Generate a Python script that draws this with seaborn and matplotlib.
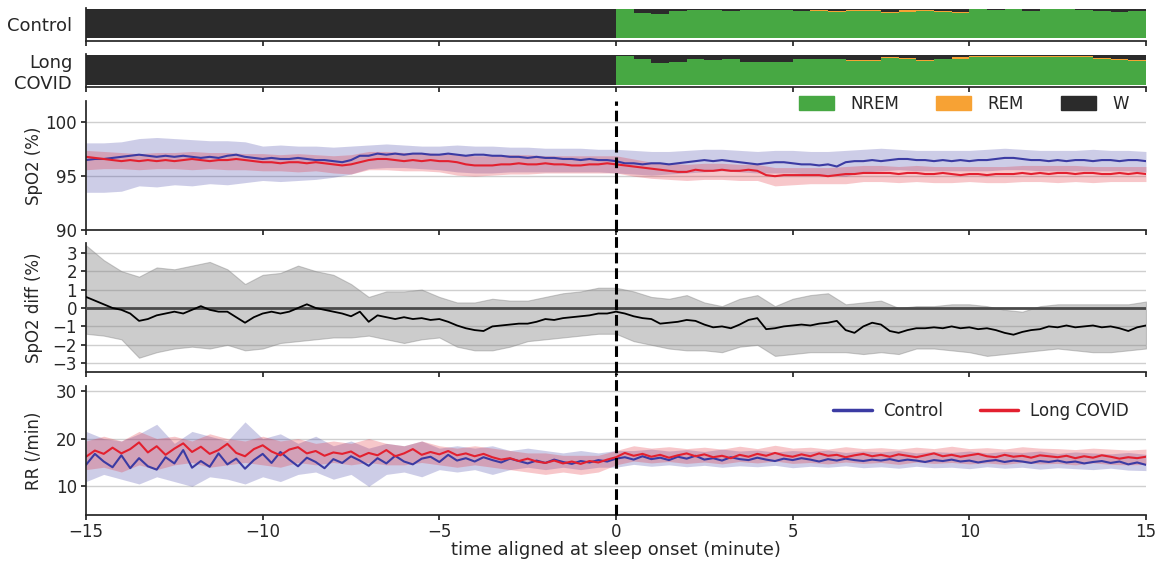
import numpy as np
import seaborn as sns
import matplotlib.pyplot as plt
from matplotlib.patches import Patch

sns.set_theme(style='ticks')
plt.rcParams['font.family'] = ['DejaVu Sans']
plt.rcParams.update({'font.size': 12, 'axes.labelsize': 12, 'xtick.labelsize': 12,
                     'ytick.labelsize': 12, 'legend.fontsize': 12,
                     'xtick.major.size': 3.5, 'ytick.major.size': 3.5,
                     'xtick.major.pad': 2.5, 'ytick.major.pad': 3, 'axes.labelpad': 2})

# time grids (minutes from sleep onset)
t_line = np.linspace(-15, 15, 121)   # mean traces, 15 s
t_band = np.linspace(-15, 15, 61)    # spread, 30 s
t_epoch = np.arange(-15, 15, 0.5)    # 30 s scoring epochs

# ---- hypnogram fractions per epoch (W and REM, rest is NREM)
hyp_ctrl_w = [1.0] * 30 + [0.02, 0.14, 0.18, 0.07, 0.03, 0.03, 0.08, 0.03, 0.03, 0.03,
                           0.07, 0.04, 0.07, 0.04, 0.04, 0.10, 0.05, 0.03, 0.07, 0.10,
                           0.02, 0.03, 0.02, 0.06, 0.02, 0.02, 0.05, 0.08, 0.11, 0.06]
hyp_ctrl_rem = [0.0] * 30 + [0, 0, 0, 0, 0, 0, 0, 0, 0, 0,
                             0, 0.02, 0.03, 0.04, 0.04, 0.03, 0.04, 0.05, 0.03, 0.03,
                             0, 0, 0, 0, 0, 0, 0, 0, 0, 0]
hyp_lc_w = [1.0] * 30 + [0.02, 0.15, 0.27, 0.24, 0.13, 0.18, 0.12, 0.22, 0.22, 0.22,
                         0.13, 0.15, 0.15, 0.18, 0.18, 0.06, 0.10, 0.16, 0.12, 0.08,
                         0.04, 0.03, 0.03, 0.03, 0.03, 0.03, 0.03, 0.10, 0.12, 0.16]
hyp_lc_rem = [0.0] * 30 + [0, 0, 0, 0, 0, 0, 0, 0, 0, 0,
                           0, 0, 0, 0.03, 0.03, 0.04, 0.03, 0.03, 0.03, 0.04,
                           0.04, 0.04, 0.04, 0.04, 0.04, 0.04, 0.04, 0.04, 0.04, 0.05]

# ---- SpO2 (%)
spo2_ctrl = [96.5, 96.6, 96.6, 96.7, 96.8, 96.9, 97.0, 96.9, 96.8, 96.9,
             96.8, 96.9, 96.8, 96.7, 96.8, 96.7, 96.9, 97.0, 96.8, 96.7,
             96.6, 96.7, 96.6, 96.6, 96.7, 96.6, 96.5, 96.5, 96.4, 96.3,
             96.5, 96.9, 96.9, 97.1, 97.0, 97.1, 97.0, 97.1, 97.1, 97.0,
             97.0, 97.1, 97.0, 96.9, 97.0, 97.0, 96.9, 96.9, 96.8, 96.8,
             96.7, 96.8, 96.7, 96.7, 96.6, 96.6, 96.5, 96.6, 96.5, 96.5,
             96.4,
             96.2, 96.2, 96.1, 96.2, 96.2, 96.1, 96.2, 96.3, 96.4, 96.5,
             96.4, 96.5, 96.4, 96.3, 96.2, 96.1, 96.2, 96.3, 96.3, 96.2,
             96.1, 96.1, 96.0, 96.1, 95.9, 96.3, 96.4, 96.4, 96.5, 96.4,
             96.5, 96.6, 96.6, 96.5, 96.5, 96.4, 96.5, 96.4, 96.5, 96.4,
             96.5, 96.5, 96.6, 96.7, 96.7, 96.6, 96.5, 96.5, 96.4, 96.5,
             96.4, 96.5, 96.5, 96.4, 96.5, 96.5, 96.4, 96.5, 96.5, 96.4]
spo2_lc = [96.8, 96.7, 96.6, 96.5, 96.4, 96.5, 96.4, 96.5, 96.4, 96.5,
           96.4, 96.5, 96.6, 96.5, 96.4, 96.5, 96.5, 96.6, 96.5, 96.4,
           96.3, 96.3, 96.2, 96.3, 96.3, 96.2, 96.3, 96.2, 96.1, 96.0,
           96.1, 96.3, 96.5, 96.6, 96.6, 96.5, 96.4, 96.5, 96.4, 96.5,
           96.4, 96.4, 96.3, 96.1, 96.0, 96.0, 96.0, 96.1, 96.1, 96.2,
           96.1, 96.1, 96.2, 96.1, 96.1, 96.0, 96.0, 96.1, 96.1, 96.2,
           96.1,
           96.0, 95.9, 95.8, 95.7, 95.6, 95.5, 95.4, 95.4, 95.6, 95.5,
           95.5, 95.6, 95.5, 95.5, 95.6, 95.5, 95.1, 95.0, 95.1, 95.1,
           95.1, 95.1, 95.1, 95.0, 95.1, 95.2, 95.2, 95.3, 95.3, 95.3,
           95.3, 95.2, 95.3, 95.3, 95.2, 95.2, 95.3, 95.2, 95.1, 95.2,
           95.2, 95.1, 95.2, 95.2, 95.2, 95.3, 95.2, 95.3, 95.2, 95.3,
           95.3, 95.2, 95.3, 95.3, 95.2, 95.2, 95.3, 95.2, 95.3, 95.2]
spo2_ctrl_hi = [98.1, 98.1, 98.2, 98.5, 98.6, 98.5, 98.4, 98.3, 98.3, 98.2,
                97.8, 97.9, 97.8, 97.8, 97.7, 97.8, 97.9, 98.0, 97.9, 97.8,
                97.8, 97.9, 97.8, 97.8, 97.7, 97.7, 97.6, 97.6, 97.6, 97.5,
                97.5,
                97.4, 97.3, 97.3, 97.4, 97.5, 97.5, 97.4, 97.3, 97.4, 97.4,
                97.3, 97.3, 97.4, 97.5, 97.6, 97.5, 97.4, 97.4, 97.4, 97.4,
                97.5, 97.6, 97.5, 97.4, 97.4, 97.4, 97.5, 97.4, 97.4, 97.3]
spo2_ctrl_lo = [93.5, 93.5, 93.6, 94.1, 94.0, 94.2, 94.1, 94.3, 94.2, 94.4,
                94.6, 94.5, 94.6, 94.7, 94.9, 95.2, 95.7, 95.8, 95.8, 95.7,
                95.6, 95.4, 95.3, 95.3, 95.4, 95.4, 95.4, 95.4, 95.4, 95.4,
                95.3,
                95.2, 95.1, 95.2, 95.3, 95.4, 95.5, 95.4, 95.3, 95.3, 95.3,
                95.2, 95.1, 95.0, 95.4, 95.5, 95.6, 95.5, 95.5, 95.5, 95.5,
                95.5, 95.6, 95.6, 95.5, 95.5, 95.5, 95.5, 95.5, 95.5, 95.4]
spo2_lc_hi = [97.4, 97.3, 97.2, 97.1, 97.2, 97.2, 97.3, 97.2, 97.2, 97.1,
              97.1, 97.0, 97.1, 97.0, 96.9, 97.0, 97.3, 97.3, 97.2, 97.2,
              97.1, 97.0, 96.9, 96.9, 97.0, 97.0, 96.9, 96.9, 96.9, 96.9,
              96.9,
              96.6, 96.3, 96.2, 96.1, 96.2, 96.2, 96.1, 96.1, 95.8, 95.8,
              95.8, 95.8, 95.9, 96.0, 96.0, 95.9, 96.0, 95.9, 95.9, 95.9,
              95.9, 95.9, 96.0, 96.0, 96.0, 96.0, 95.9, 95.9, 95.9, 95.9]
spo2_lc_lo = [95.6, 95.7, 95.7, 95.6, 95.7, 95.7, 95.6, 95.7, 95.6, 95.6,
              95.5, 95.5, 95.4, 95.5, 95.3, 95.2, 95.6, 95.6, 95.5, 95.5,
              95.4, 95.1, 95.0, 95.1, 95.2, 95.2, 95.3, 95.3, 95.3, 95.3,
              95.3,
              95.0, 94.8, 94.7, 94.6, 94.7, 94.7, 94.6, 94.6, 94.1, 94.2,
              94.3, 94.3, 94.3, 94.5, 94.5, 94.4, 94.5, 94.4, 94.4, 94.5,
              94.4, 94.4, 94.5, 94.5, 94.4, 94.5, 94.4, 94.5, 94.5, 94.5]

# ---- SpO2 difference (%)
diff_mean = [0.6, 0.4, 0.2, 0.0, -0.1, -0.3, -0.7, -0.6, -0.4, -0.3,
             -0.2, -0.3, -0.1, 0.1, -0.1, -0.2, -0.2, -0.5, -0.8, -0.5,
             -0.3, -0.2, -0.3, -0.2, 0.0, 0.2, 0.0, -0.1, -0.2, -0.3,
             -0.45, -0.2, -0.75, -0.4, -0.5, -0.6, -0.5, -0.6, -0.55, -0.65,
             -0.6, -0.75, -0.95, -1.1, -1.2, -1.25, -1.0, -0.95, -0.9, -0.85,
             -0.85, -0.75, -0.6, -0.65, -0.55, -0.5, -0.45, -0.4, -0.3, -0.3,
             -0.2,
             -0.3, -0.45, -0.55, -0.6, -0.85, -0.8, -0.75, -0.65, -0.7, -0.9,
             -1.05, -1.0, -1.1, -0.9, -0.65, -0.55, -1.15, -1.1, -1.0, -0.95,
             -0.9, -0.95, -0.85, -0.8, -0.7, -1.2, -1.35, -1.0, -0.8, -0.9,
             -1.25, -1.35, -1.2, -1.1, -1.1, -1.05, -1.1, -1.0, -1.1, -1.05,
             -1.15, -1.1, -1.2, -1.35, -1.45, -1.3, -1.2, -1.15, -1.0, -1.05,
             -0.95, -1.05, -1.0, -0.95, -1.05, -1.0, -1.1, -1.25, -1.05, -0.95]
diff_hi = [3.4, 2.6, 2.0, 1.7, 2.2, 2.1, 2.3, 2.5, 2.1, 1.3,
           1.8, 1.9, 2.3, 2.0, 1.8, 1.3, 0.6, 0.9, 0.9, 1.0,
           0.6, 0.3, 0.3, 0.5, 0.4, 0.4, 0.6, 0.8, 0.9, 1.1,
           1.1,
           0.9, 0.6, 0.5, 0.7, 0.3, 0.1, 0.5, 0.7, 0.1, 0.5,
           0.7, 0.8, 0.2, 0.3, 0.4, 0.0, 0.1, 0.1, 0.2, 0.2,
           0.1, -0.1, -0.2, 0.1, 0.2, 0.2, 0.2, 0.2, 0.2, 0.35]
diff_lo = [-1.4, -1.5, -1.7, -2.7, -2.4, -2.2, -2.1, -2.2, -2.0, -2.3,
           -2.2, -1.9, -1.8, -1.7, -1.6, -1.6, -1.5, -1.7, -1.9, -1.7,
           -1.6, -2.1, -2.3, -2.3, -2.1, -1.8, -1.7, -1.6, -1.5, -1.4,
           -1.4,
           -1.8, -2.0, -2.2, -2.3, -2.3, -2.4, -2.1, -2.0, -2.6, -2.5,
           -2.4, -2.4, -2.4, -2.5, -2.4, -2.5, -2.2, -2.2, -2.3, -2.4,
           -2.6, -2.5, -2.4, -2.3, -2.2, -2.3, -2.4, -2.4, -2.3, -2.2]

# ---- respiratory rate (/min)
rr_ctrl = [14.5, 16.8, 15.2, 14.0, 16.5, 13.8, 15.9, 14.2, 13.5, 16.1,
           14.8, 17.6, 13.9, 15.3, 14.1, 16.9, 14.6, 15.8, 13.7, 15.5,
           16.8, 14.9, 17.2, 15.6, 14.2, 16.0, 15.1, 13.8, 15.7, 14.9,
           16.3, 15.4, 14.3, 15.9, 14.8, 16.4, 15.2, 14.6, 15.8, 16.2,
           15.1, 16.6, 15.4, 15.9, 15.2, 16.1, 15.5, 15.0, 15.8, 15.3,
           14.8, 15.4, 14.9, 15.6, 15.1, 14.7, 15.3, 15.0, 15.5, 15.2,
           15.8,
           16.1, 15.6, 16.3, 15.7, 16.0, 15.5, 16.2, 15.8, 16.4, 15.6,
           15.9, 15.4, 16.1, 15.7, 15.5, 16.0, 15.6, 15.3, 15.8, 15.5,
           15.9, 15.6, 15.2, 15.7, 15.4, 15.8, 15.5, 15.3, 15.6, 15.4,
           15.7, 15.3, 15.6, 15.4, 15.1, 15.5, 15.3, 15.6, 15.2, 15.4,
           15.0, 15.3, 15.5, 15.1, 15.4, 15.2, 14.9, 15.3, 15.1, 15.4,
           15.0, 15.2, 14.8, 15.1, 15.3, 14.9, 15.2, 14.6, 15.0, 14.5]
rr_lc = [16.2, 17.5, 16.8, 18.1, 16.9, 17.8, 19.2, 17.1, 18.4, 16.6,
         17.9, 19.0, 17.2, 18.3, 16.8, 17.6, 18.9, 17.0, 16.3, 17.8,
         18.6, 17.3, 16.5, 17.7, 18.2, 16.9, 17.4, 16.4, 17.1, 16.8,
         17.3, 16.2, 17.0, 16.5, 17.6, 16.3, 16.9, 17.8, 16.6, 17.2,
         16.7, 17.4, 16.5, 16.9, 16.3, 16.8, 16.1, 15.6, 15.9, 15.3,
         15.8, 15.2, 14.9, 15.4, 14.8, 15.2, 14.7, 15.3, 15.0, 15.6,
         16.1,
         17.0, 16.4, 16.8, 16.2, 16.6, 16.0, 16.5, 16.9, 16.3, 16.7,
         16.1, 16.4, 15.9, 16.6, 16.2, 16.8, 16.4, 17.0, 16.5, 16.2,
         16.7, 16.3, 16.9, 16.4, 16.6, 16.1, 16.5, 16.8, 16.3, 16.6,
         16.2, 16.7, 16.4, 16.1, 16.5, 16.9, 16.3, 16.6, 16.2, 16.5,
         16.8, 16.3, 16.1, 16.6, 16.2, 16.4, 16.0, 16.5, 16.3, 16.1,
         16.4, 15.9, 16.3, 16.0, 16.5, 16.2, 15.8, 16.1, 15.9, 16.2]
rr_ctrl_hi = [21.5, 20.0, 19.5, 21.0, 23.0, 19.0, 21.5, 20.5, 19.5, 23.5,
              20.0, 21.0, 19.0, 20.5, 18.5, 19.5, 18.0, 19.0, 18.5, 19.5,
              18.0, 18.5, 18.0, 18.5, 17.5, 18.0, 17.5, 17.0, 17.5, 17.0,
              17.5,
              17.5, 17.8, 17.4, 17.7, 17.3, 17.8, 17.4, 17.6, 17.2, 17.5,
              17.3, 17.6, 17.1, 17.4, 17.2, 17.5, 17.0, 17.3, 17.1, 17.4,
              17.0, 17.3, 17.1, 17.4, 16.9, 17.2, 17.0, 16.8, 17.1, 16.7]
rr_ctrl_lo = [11.0, 12.5, 11.5, 10.5, 12.0, 11.0, 10.0, 12.0, 11.5, 10.5,
              12.0, 11.0, 12.5, 13.0, 11.5, 12.5, 10.0, 12.5, 13.0, 12.0,
              13.5, 13.0, 13.5, 12.5, 13.5, 14.0, 13.5, 14.0, 13.5, 14.0,
              14.0,
              14.6, 14.2, 14.5, 14.1, 14.4, 14.0, 14.3, 14.1, 14.4, 13.9,
              14.2, 14.0, 14.3, 13.9, 14.1, 13.8, 14.2, 13.9, 14.0, 13.7,
              14.1, 13.8, 14.0, 13.6, 13.9, 13.7, 13.5, 13.8, 13.4, 13.3]
rr_lc_hi = [19.5, 20.5, 19.5, 21.5, 20.0, 20.5, 19.5, 21.0, 20.0, 19.5,
            20.5, 19.5, 20.0, 19.0, 19.5, 19.0, 20.0, 19.0, 18.5, 19.5,
            18.5, 18.0, 18.5, 18.0, 17.5, 17.0, 17.0, 16.5, 16.5, 16.5,
            17.5,
            18.5, 18.0, 18.3, 17.9, 18.2, 17.8, 18.4, 17.9, 18.6, 18.0,
            18.2, 17.8, 18.3, 17.9, 18.1, 17.8, 18.2, 17.9, 18.4, 17.9,
            18.1, 17.8, 18.3, 18.0, 17.9, 17.7, 18.0, 17.8, 17.6, 17.8]
rr_lc_lo = [13.5, 14.0, 13.0, 14.5, 13.5, 14.5, 15.0, 14.0, 14.5, 15.0,
            14.5, 14.0, 15.0, 14.5, 15.0, 14.5, 15.0, 14.5, 14.5, 15.0,
            14.5, 14.0, 14.5, 14.0, 13.5, 13.0, 12.5, 13.0, 12.5, 13.0,
            14.5,
            15.3, 14.9, 15.2, 14.8, 15.1, 14.7, 15.2, 14.9, 15.3, 14.8,
            15.0, 14.7, 15.1, 14.8, 15.0, 14.6, 15.1, 14.8, 15.0, 14.7,
            14.9, 14.6, 15.0, 14.7, 14.8, 14.5, 14.9, 14.6, 14.5, 14.6]

c_ctrl = '#3b3ba3'
c_lc = '#e3202f'
c_nrem = '#47a843'
c_rem = '#f7a234'
c_w = '#2b2b2b'


def hypnogram(ax, w, rem, name):
    w = np.array(w)
    rem = np.array(rem)
    nrem = 1 - w - rem
    x = np.append(t_epoch, 15.0)
    n = np.append(nrem, nrem[-1])
    r = np.append(rem, rem[-1])
    ax.fill_between(x, 0, n, step='post', color=c_nrem, lw=0)
    ax.fill_between(x, n, n + r, step='post', color=c_rem, lw=0)
    ax.fill_between(x, n + r, 1, step='post', color=c_w, lw=0)
    ax.set_ylim(-0.09, 1.02)
    ax.set_yticks([0.5])
    ax.set_yticklabels([name], fontsize=13)
    ax.tick_params(axis='y', length=0, pad=10)


def two_groups(ax, y_c, lo_c, hi_c, y_l, lo_l, hi_l):
    ax.fill_between(t_band, lo_c, hi_c, color=c_ctrl, alpha=0.25, lw=0)
    ax.fill_between(t_band, lo_l, hi_l, color=c_lc, alpha=0.25, lw=0)
    sns.lineplot(x=t_line, y=y_c, ax=ax, color=c_ctrl, lw=1.5, estimator=None, label='Control')
    sns.lineplot(x=t_line, y=y_l, ax=ax, color=c_lc, lw=1.5, estimator=None, label='Long COVID')


fig, axes = plt.subplots(5, 1, sharex=True, figsize=(11.58, 5.62),
                         gridspec_kw={'height_ratios': [32.5, 33, 129, 129, 129]})
fig.subplots_adjust(left=0.0743, right=0.9896, top=0.9852, bottom=0.0836, hspace=0.15)

hypnogram(axes[0], hyp_ctrl_w, hyp_ctrl_rem, 'Control')
hypnogram(axes[1], hyp_lc_w, hyp_lc_rem, 'Long\nCOVID')

ax = axes[2]
two_groups(ax, spo2_ctrl, spo2_ctrl_lo, spo2_ctrl_hi, spo2_lc, spo2_lc_lo, spo2_lc_hi)
ax.set_ylim(90, 102)
ax.set_yticks([90, 95, 100])
ax.set_ylabel('SpO2 (%)')
stage_handles = [Patch(color=c_nrem, label='NREM'), Patch(color=c_rem, label='REM'),
                 Patch(color=c_w, label='W')]
ax.legend(handles=stage_handles, loc='upper right', bbox_to_anchor=(0.99, 1.1), ncol=3,
          frameon=False, borderaxespad=0, handlelength=2.1, handleheight=0.85,
          handletextpad=1.0, columnspacing=2.2)

ax = axes[3]
ax.fill_between(t_band, diff_lo, diff_hi, color='gray', alpha=0.4, lw=0.8)
ax.axhline(0, color='#4a4a4a', lw=2, zorder=3)
sns.lineplot(x=t_line, y=diff_mean, ax=ax, color='black', lw=1.3, estimator=None, zorder=4)
ax.set_ylim(-3.5, 3.5)
ax.set_yticks([-3, -2, -1, 0, 1, 2, 3])
ax.set_ylabel('SpO2 diff (%)')

ax = axes[4]
two_groups(ax, rr_ctrl, rr_ctrl_lo, rr_ctrl_hi, rr_lc, rr_lc_lo, rr_lc_hi)
ax.set_ylim(4, 31)
ax.set_yticks([10, 20, 30])
ax.set_ylabel('RR (/min)')
ax.legend(loc='upper right', bbox_to_anchor=(0.99, 0.93), ncol=2, frameon=False,
          borderaxespad=0, handlelength=2.3, handletextpad=0.7, columnspacing=2.2)
for line in ax.get_legend().get_lines():
    line.set_linewidth(2.5)

ax.set_xlim(-15, 15)
ax.set_xticks([-15, -10, -5, 0, 5, 10, 15])
ax.set_xlabel('time aligned at sleep onset (minute)', fontsize=13, labelpad=0)

for i, ax in enumerate(axes):
    sns.despine(ax=ax)
    if i >= 2:
        ax.grid(axis='y', color='#cfcfcf', lw=1)
        ax.set_axisbelow(True)
        top = 1.0 if i == 2 else 1.105
        ax.axvline(0, ymin=0, ymax=top, color='black', lw=2.2, ls=(0, (3.5, 1.6)),
                   clip_on=False, zorder=6)

fig.align_ylabels(axes[2:])
fig.savefig('out.png', dpi=100)
